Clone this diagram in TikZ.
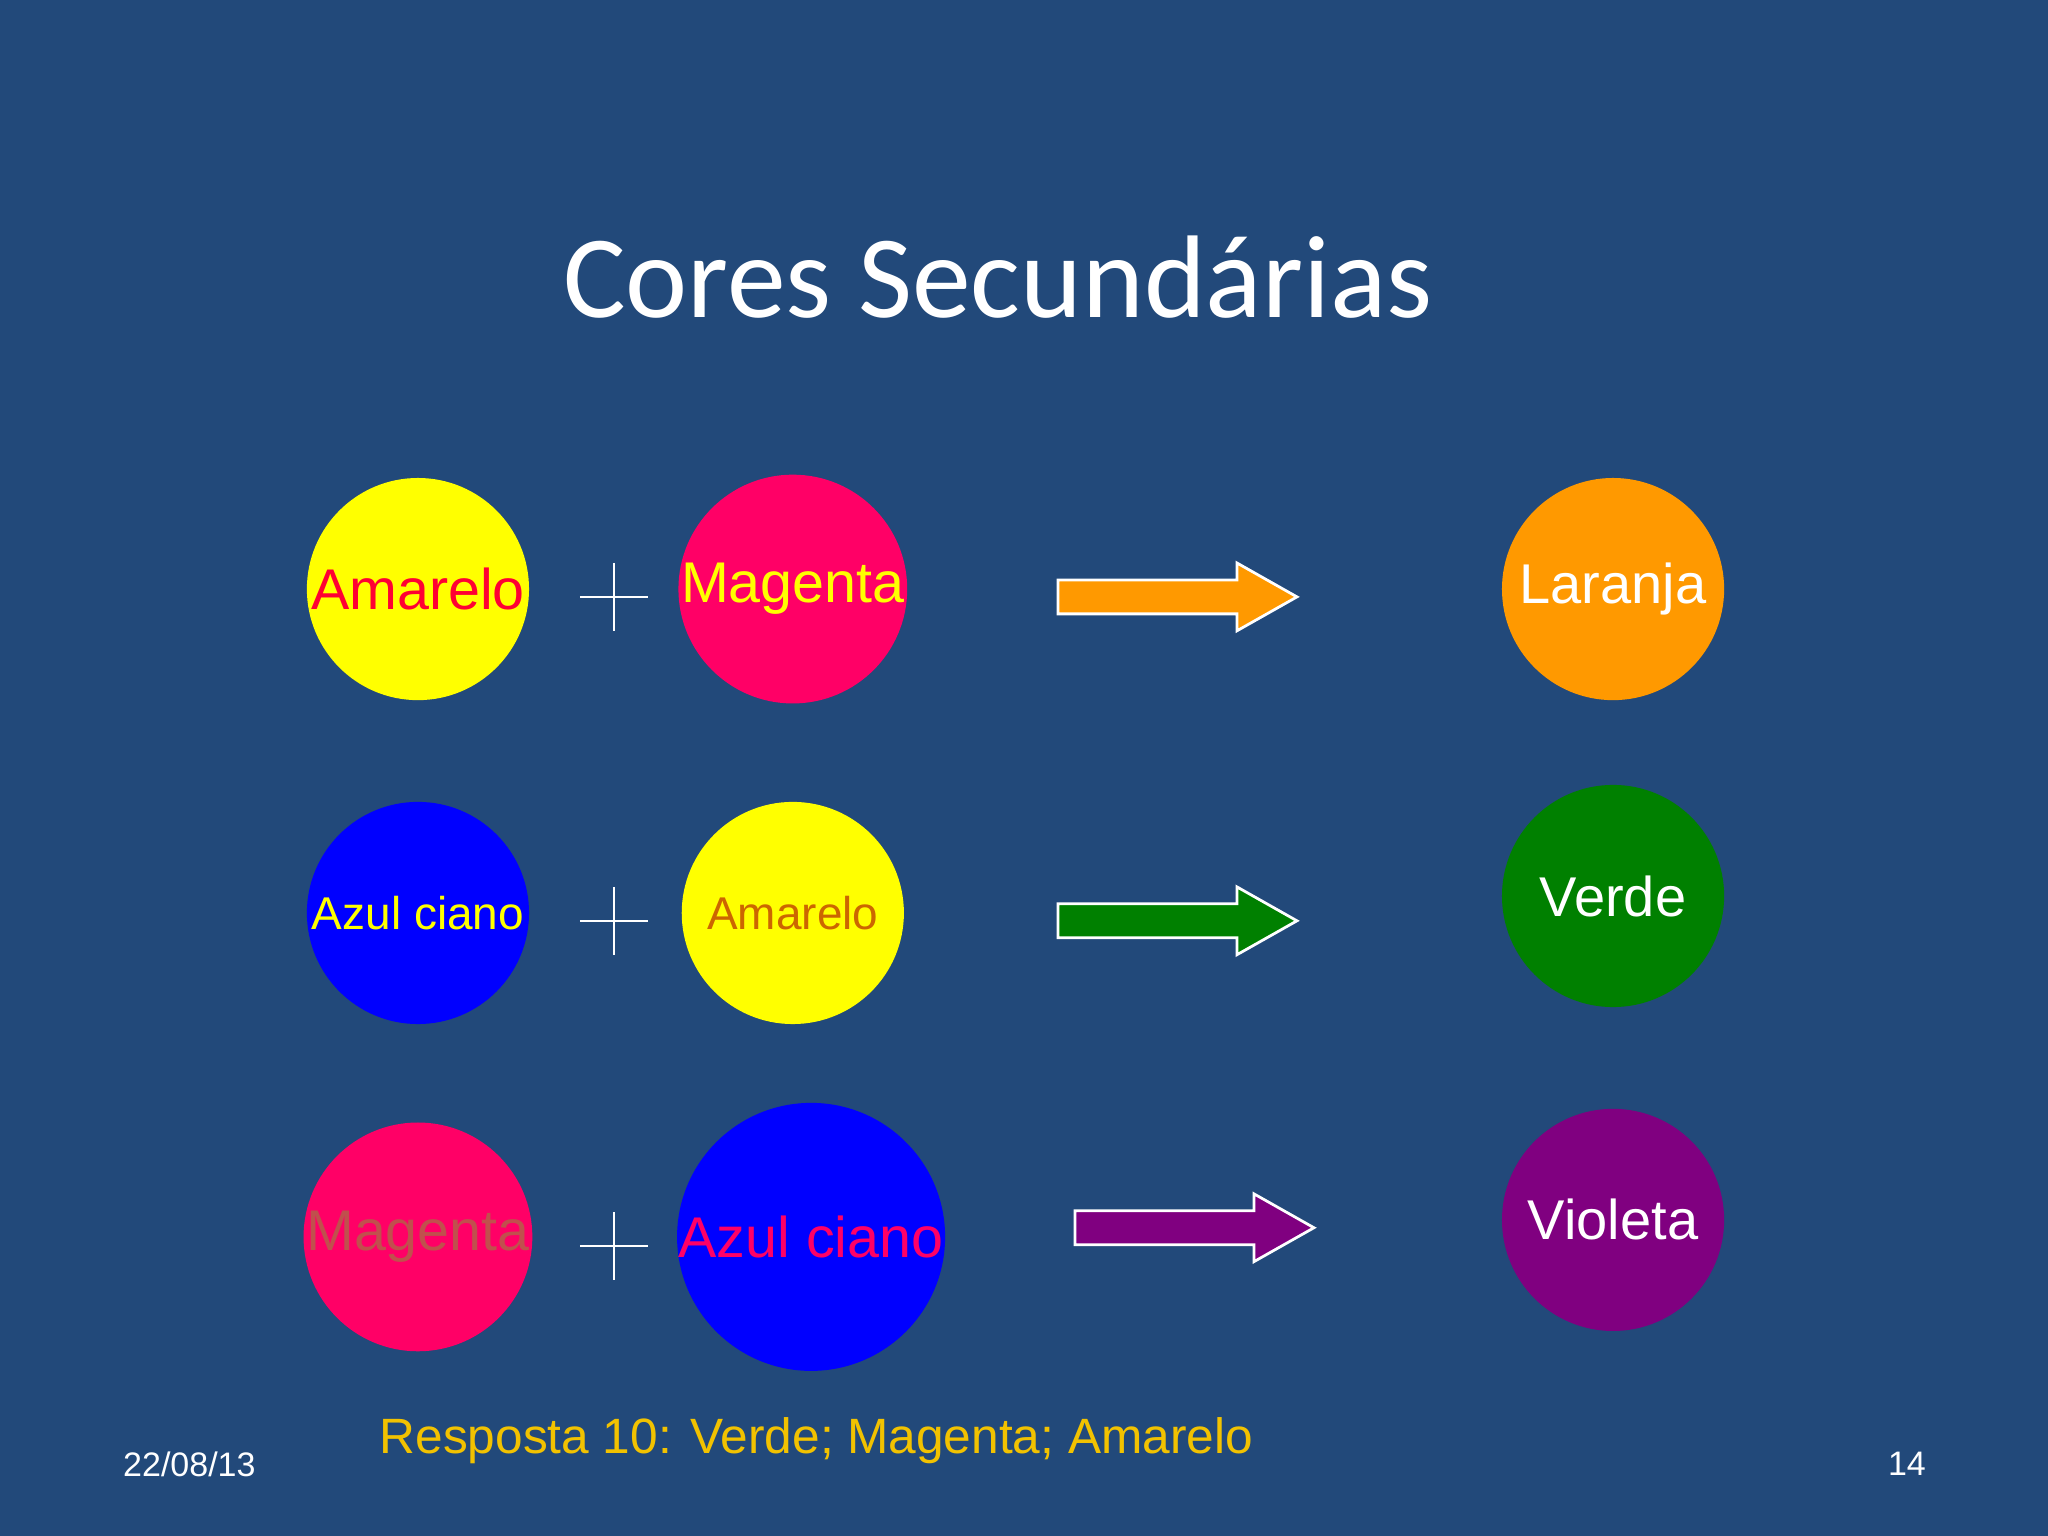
\documentclass[tikz,border=0pt]{standalone}
\usepackage{fontspec}
\setmainfont{Liberation Sans}
\newfontfamily\titlefont{Carlito}
\definecolor{bg}{HTML}{22497A}
\definecolor{cy}{HTML}{FFFF00}
\definecolor{cm}{HTML}{FF0066}
\definecolor{cb}{HTML}{0000FF}
\definecolor{co}{HTML}{FF9900}
\definecolor{cg}{HTML}{008000}
\definecolor{cp}{HTML}{800080}
\definecolor{tred}{HTML}{FF0033}
\definecolor{tbrown}{HTML}{CC6600}
\definecolor{tmag}{HTML}{C0504D}
\definecolor{gold}{HTML}{F2C200}
\begin{document}
\begin{tikzpicture}[x=0.01cm,y=-0.01cm,
  disc/.style={circle,minimum size=170\pgflinewidth,inner sep=0pt,minimum size=1.7cm},
  big/.style={font=\fontsize{12.5}{14}\selectfont},
  mid/.style={font=\fontsize{10}{12}\selectfont},
  res/.style={font=\fontsize{12.2}{14}\selectfont,text=white},
  plus/.style={inner sep=0pt,minimum size=0.52cm,path picture={\draw[white,line width=0.5pt] (path picture bounding box.north)--(path picture bounding box.south) (path picture bounding box.west)--(path picture bounding box.east);}},
  arr/.style={draw=white,line width=0.6pt}]
\fill[bg] (0,0) rectangle (1568,1176);
\node[text=white,font=\titlefont\fontsize{25.6}{30}\selectfont] (title) at (764,212) {Cores Secundárias};
% row 1
\node[disc,fill=cy,big,text=tred] (a1) at (320,451) {Amarelo};
\node[plus] (p1) at (470,457) {};
\node[disc,fill=cm,big,text=cy] (b1) at (607,451) {Magenta};
\fill[co,arr] (810,444)--(947,444)--(947,431)--(993,457)--(947,483)--(947,470)--(810,470)--cycle;
\node[disc,fill=co,res] (r1) at (1235,451) {Laranja};
% row 2
\node[disc,fill=cb,mid,text=cy] (a2) at (320,699) {Azul ciano};
\node[plus] (p2) at (470,705) {};
\node[disc,fill=cy,mid,text=tbrown] (b2) at (607,699) {Amarelo};
\fill[cg,arr] (810,692)--(947,692)--(947,679)--(993,705)--(947,731)--(947,718)--(810,718)--cycle;
\node[disc,fill=cg,res] (r2) at (1235,686) {Verde};
% row 3
\node[disc,fill=cm,big,text=tmag] (a3) at (320,947) {Magenta};
\node[plus] (p3) at (470,954) {};
\node[disc,fill=cb,big,text=cm] (b3) at (621,947) {Azul ciano};
\fill[cp,arr] (823,927)--(960,927)--(960,914)--(1006,940)--(960,966)--(960,953)--(823,953)--cycle;
\node[disc,fill=cp,res] (r3) at (1235,934) {Violeta};
% footer
\node[text=gold,font=\fontsize{10.8}{13}\selectfont] (ans) at (625,1103) {Resposta 10: Verde; Magenta; Amarelo};
\node[text=white,font=\fontsize{7.4}{9}\selectfont] (date) at (145,1121) {22/08/13};
\node[text=white,font=\fontsize{7.4}{9}\selectfont] (num) at (1460,1121) {14};
\end{tikzpicture}
\end{document}
